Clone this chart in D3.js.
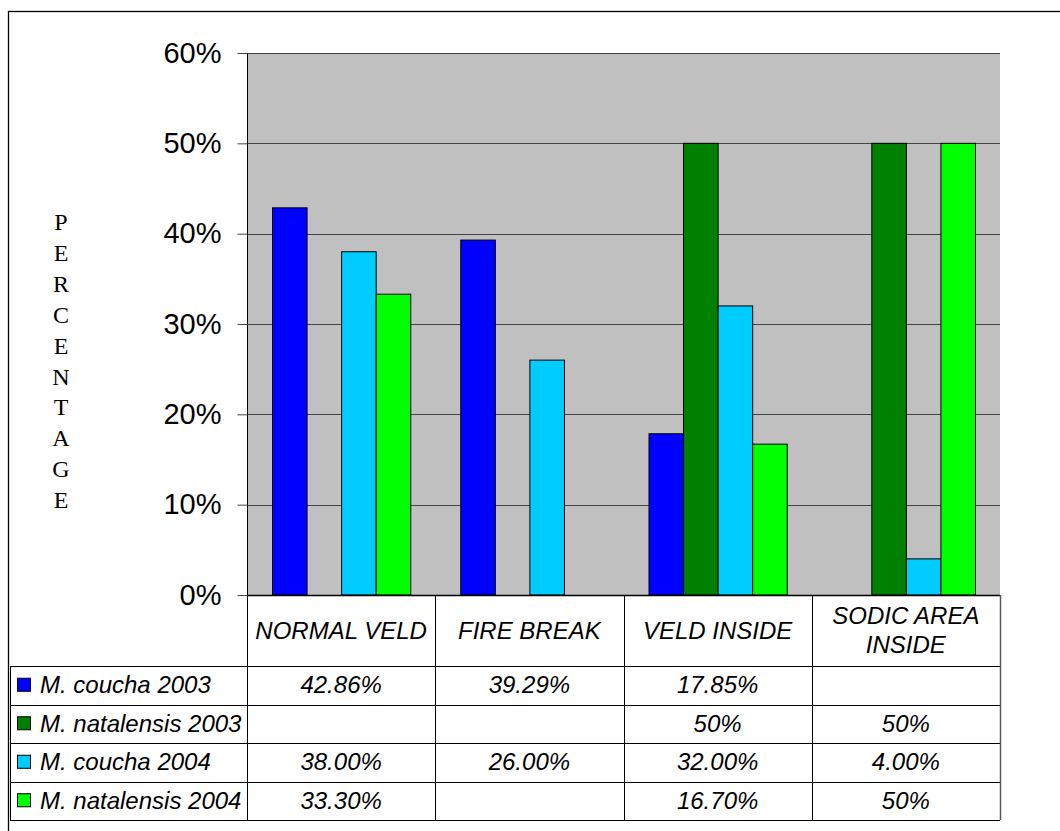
<!DOCTYPE html>
<html lang="en">
<head>
    <meta charset="utf-8">
    <title>Percentage by site</title>
    <script src="https://d3js.org/d3.v7.min.js"></script>
    <style>
        body { margin: 0; background: #fff; }
        svg text { font-family: "Liberation Sans", Arial, sans-serif; fill: #000; }
    </style>
</head>
<body>
<div id="chart"></div>
<script>
    // data
    var categories = ["NORMAL VELD", "FIRE BREAK", "VELD INSIDE", "SODIC AREA INSIDE"];
    var catLines = [["NORMAL VELD"], ["FIRE BREAK"], ["VELD INSIDE"], ["SODIC AREA", "INSIDE"]];
    var seriesNames = ["M. coucha 2003", "M. natalensis 2003", "M. coucha 2004", "M. natalensis 2004"];
    var seriesColors = ["#0000ff", "#008000", "#00ccff", "#00ff00"];
    var coucha2003 = [42.86, 39.29, 17.85, null];
    var natalensis2003 = [null, null, 50, 50];
    var coucha2004 = [38.00, 26.00, 32.00, 4.00];
    var natalensis2004 = [33.30, null, 16.70, 50];
    var tableLabels = [
        ["42.86%", "39.29%", "17.85%", ""],
        ["", "", "50%", "50%"],
        ["38.00%", "26.00%", "32.00%", "4.00%"],
        ["33.30%", "", "16.70%", "50%"]
    ];
    var yTicks = [0, 10, 20, 30, 40, 50, 60];

    var values = [coucha2003, natalensis2003, coucha2004, natalensis2004];

    var W = 1060, H = 831;
    var plot = {left: 247, right: 1000, top: 53, bottom: 595};
    var headerBottom = 666, tableBottom = 820, tableLeft = 10;

    var svg = d3.select("#chart").append("svg")
        .attr("width", W).attr("height", H);

    // outer frame
    svg.append("rect")
        .attr("x", 8.5).attr("y", 11.5)
        .attr("width", 1200).attr("height", 1000)
        .attr("fill", "none").attr("stroke", "#000").attr("stroke-width", 1.3);

    var x = d3.scaleBand().domain(categories).range([plot.left, plot.right]);
    var xs = d3.scaleBand().domain(seriesNames).range([25, x.bandwidth() - 25]);
    var y = d3.scaleLinear().domain([0, 60]).range([plot.bottom, plot.top]);

    // plot background
    svg.append("rect")
        .attr("x", plot.left).attr("y", plot.top)
        .attr("width", plot.right - plot.left).attr("height", plot.bottom - plot.top)
        .attr("fill", "#c0c0c0");

    // grid lines
    svg.append("g").selectAll("line")
        .data(yTicks.filter(function (d) { return d > 0; }))
        .enter().append("line")
        .attr("x1", plot.left).attr("x2", plot.right)
        .attr("y1", function (d) { return Math.round(y(d)) + 0.5; })
        .attr("y2", function (d) { return Math.round(y(d)) + 0.5; })
        .attr("stroke", "#444").attr("stroke-width", 1);

    // bars
    var groups = svg.append("g").selectAll("g")
        .data(categories)
        .enter().append("g")
        .attr("transform", function (d) { return "translate(" + x(d) + ",0)"; });

    groups.selectAll("rect")
        .data(function (c, ci) {
            return seriesNames.map(function (s, si) {
                return {s: s, i: si, v: values[si][ci]};
            }).filter(function (d) { return d.v != null; });
        })
        .enter().append("rect")
        .attr("x", function (d) { return xs(d.s) + 0.5; })
        .attr("y", function (d) { return y(d.v); })
        .attr("width", xs.bandwidth())
        .attr("height", function (d) { return y(0) - y(d.v); })
        .attr("fill", function (d) { return seriesColors[d.i]; })
        .attr("stroke", "#000").attr("stroke-width", 1);

    // y axis
    var yAxis = d3.axisLeft(y)
        .tickValues(yTicks)
        .tickFormat(function (d) { return d + "%"; })
        .tickSize(10).tickPadding(16);
    var ga = svg.append("g")
        .attr("transform", "translate(" + (plot.left + 0.5) + ",0)")
        .call(yAxis);
    ga.select(".domain").attr("stroke", "#000").attr("d", "M0," + plot.top + "V" + plot.bottom);
    ga.selectAll(".tick line").attr("stroke", "#444");
    ga.selectAll(".tick text")
        .style("font-family", "'Liberation Sans', Arial, sans-serif")
        .attr("font-size", 29).attr("fill", "#000");

    // vertical axis title
    var letters = "PERCENTAGE".split("");
    svg.append("text")
        .attr("x", 61)
        .style("font-family", "'Liberation Serif', 'Times New Roman', serif")
        .attr("font-size", 24)
        .attr("text-anchor", "middle")
        .selectAll("tspan")
        .data(letters)
        .enter().append("tspan")
        .attr("x", 61)
        .attr("y", function (d, i) { return 230 + i * 30.9; })
        .text(function (d) { return d; });

    // data table
    var table = svg.append("g")
        .attr("stroke", "#000").attr("stroke-width", 1).attr("fill", "none");
    var rowH = (tableBottom - headerBottom) / seriesNames.length;

    // x axis line (plot bottom)
    table.append("line")
        .attr("x1", plot.left).attr("x2", plot.right)
        .attr("y1", plot.bottom + 0.5).attr("y2", plot.bottom + 0.5)
        .attr("stroke-width", 1.5);
    // horizontal lines
    d3.range(seriesNames.length + 1).forEach(function (r) {
        var yy = Math.round(headerBottom + r * rowH) + 0.5;
        table.append("line")
            .attr("x1", tableLeft).attr("x2", plot.right)
            .attr("y1", yy).attr("y2", yy);
    });
    // vertical lines
    table.append("line")
        .attr("x1", tableLeft + 0.5).attr("x2", tableLeft + 0.5)
        .attr("y1", headerBottom).attr("y2", tableBottom);
    categories.forEach(function (c) {
        var xx = Math.round(x(c)) + 0.5;
        table.append("line")
            .attr("x1", xx).attr("x2", xx)
            .attr("y1", plot.bottom).attr("y2", tableBottom);
    });
    table.append("line")
        .attr("x1", plot.right + 0.5).attr("x2", plot.right + 0.5)
        .attr("y1", plot.bottom).attr("y2", tableBottom)
        .attr("stroke", "#555").attr("stroke-width", 1.5);

    // header labels
    var hdr = svg.append("g").selectAll("text")
        .data(categories)
        .enter().append("text")
        .attr("text-anchor", "middle")
        .attr("font-size", 24)
        .attr("font-style", "italic");
    hdr.selectAll("tspan")
        .data(function (d, i) {
            var lines = catLines[i];
            return lines.map(function (l, j) {
                return {t: l, c: d, j: j, n: lines.length};
            });
        })
        .enter().append("tspan")
        .attr("x", function (d) { return x(d.c) + x.bandwidth() / 2; })
        .attr("y", function (d) {
            return (plot.bottom + headerBottom) / 2 + 8 + (d.j - (d.n - 1) / 2) * 29;
        })
        .text(function (d) { return d.t; });

    // legend column + cell values
    var rows = svg.append("g").selectAll("g")
        .data(seriesNames)
        .enter().append("g")
        .attr("transform", function (d, i) { return "translate(0," + (headerBottom + i * rowH) + ")"; });

    rows.append("rect")
        .attr("x", 17.5).attr("y", rowH / 2 - 7)
        .attr("width", 13).attr("height", 13)
        .attr("fill", function (d, i) { return seriesColors[i]; })
        .attr("stroke", "#000");

    rows.append("text")
        .attr("x", 40).attr("y", rowH / 2 + 8)
        .attr("font-size", 24).attr("font-style", "italic")
        .text(function (d) { return d; });

    rows.selectAll("text.val")
        .data(function (d, i) { return tableLabels[i]; })
        .enter().append("text")
        .attr("class", "val")
        .attr("x", function (d, j) { return x(categories[j]) + x.bandwidth() / 2; })
        .attr("y", rowH / 2 + 8)
        .attr("text-anchor", "middle")
        .attr("font-size", 24).attr("font-style", "italic")
        .text(function (d) { return d; });
</script>
</body>
</html>
